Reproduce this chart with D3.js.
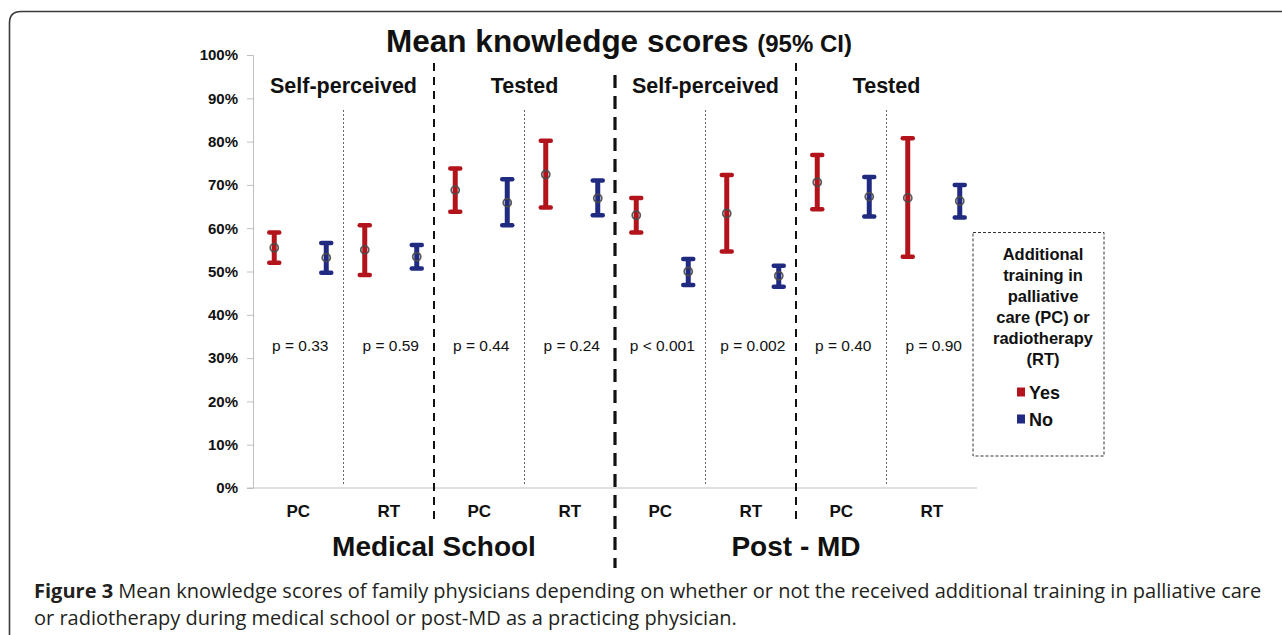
<!DOCTYPE html>
<html lang="en">
<head>
    <meta charset="UTF-8">
    <script src="https://d3js.org/d3.v7.min.js"></script>
    <title>Mean knowledge scores</title>
    <style>
        body { margin: 0; background: #fff; }
        svg text { font-family: "Liberation Sans", Arial, sans-serif; fill: #111; }
        .bold { font-weight: bold; }
        .axis path, .axis line { stroke: #bfbfbf; }
        .caption { font-family: "Open Sans", "Noto Sans", sans-serif; fill: #231f20; }
    </style>
</head>
<body>
<div class="graph"></div>
<script>
    // categories along the x axis
    var categories = ["PC", "RT", "PC", "RT", "PC", "RT", "PC", "RT"];
    var sections = ["Self-perceived", "Tested", "Self-perceived", "Tested"];
    var periods = ["Medical School", "Post - MD"];
    var pValues = ["p = 0.33", "p = 0.59", "p = 0.44", "p = 0.24",
                   "p < 0.001", "p = 0.002", "p = 0.40", "p = 0.90"];

    // mean and 95% CI, in percent
    var yesMean = [55.5, 55.0, 68.8, 72.4, 63.0, 63.4, 70.6, 67.0];
    var yesLow  = [52.0, 49.2, 63.8, 64.8, 59.0, 54.6, 64.4, 53.4];
    var yesHigh = [59.0, 60.7, 73.8, 80.2, 67.0, 72.3, 76.9, 80.8];
    var noMean  = [53.2, 53.4, 65.9, 66.9, 50.0, 49.0, 67.3, 66.3];
    var noLow   = [49.7, 50.7, 60.7, 63.0, 46.9, 46.5, 62.7, 62.5];
    var noHigh  = [56.6, 56.1, 71.3, 71.0, 52.9, 51.3, 71.8, 70.0];

    var yTicks = [0, 10, 20, 30, 40, 50, 60, 70, 80, 90, 100];
    var groups = ["Yes", "No"];
    var colors = { Yes: "#b3141c", No: "#1f2a80" };

    var legendTitle = ["Additional", "training in", "palliative", "care (PC) or", "radiotherapy", "(RT)"];
    var captionBold = "Figure 3";
    var captionLines = [
        " Mean knowledge scores of family physicians depending on whether or not the received additional training in palliative care",
        "or radiotherapy during medical school or post-MD as a practicing physician."
    ];

    var width = 1282, height = 635;

    var svg = d3.select(".graph").append("svg")
        .attr("width", width)
        .attr("height", height);

    // outer frame, only top and left edges visible
    svg.append("path")
        .attr("d", "M9.5,660 V23 Q9.5,11.5 21,11.5 H1300")
        .attr("fill", "none")
        .attr("stroke", "#3a3a3a")
        .attr("stroke-width", 1.6);

    var x = d3.scaleBand()
        .domain(d3.range(categories.length))
        .range([253, 977]);

    var sub = d3.scalePoint()
        .domain(groups)
        .range([-24, 28]);

    var y = d3.scaleLinear()
        .domain([0, 100])
        .range([488, 55]);

    // y axis
    var yAxis = svg.append("g")
        .attr("class", "axis")
        .attr("transform", "translate(253,0)")
        .call(d3.axisLeft(y).tickValues(yTicks).tickSize(6).tickPadding(9)
            .tickFormat(function (d) { return d + "%"; }));
    yAxis.selectAll("text")
        .attr("class", "bold")
        .style("font-size", "15px")
        .style("font-family", "Liberation Sans, Arial, sans-serif")
        .attr("fill", "#111");

    // x axis line
    svg.append("line")
        .attr("x1", 247).attr("x2", x.range()[1])
        .attr("y1", y(0)).attr("y2", y(0))
        .attr("stroke", "#bfbfbf");

    // separators between categories
    var sepTypes = ["dot", "dash", "dot", "thick", "dot", "dash", "dot"];
    var sepStyle = {
        dot:   { w: 1,   dash: "2,2",  y1: 110, y2: 486, c: "#666" },
        dash:  { w: 2,   dash: "8,6",  y1: 63,  y2: 520, c: "#111" },
        thick: { w: 3.2, dash: "13,8", y1: 75,  y2: 568, c: "#111" }
    };
    svg.selectAll(".sep")
        .data(sepTypes)
        .enter().append("line")
        .attr("class", "sep")
        .attr("x1", function (d, i) { return x(i + 1); })
        .attr("x2", function (d, i) { return x(i + 1); })
        .attr("y1", function (d) { return sepStyle[d].y1; })
        .attr("y2", function (d) { return sepStyle[d].y2; })
        .attr("stroke", function (d) { return sepStyle[d].c; })
        .attr("stroke-width", function (d) { return sepStyle[d].w; })
        .attr("stroke-dasharray", function (d) { return sepStyle[d].dash; });

    // category labels
    svg.selectAll(".cat")
        .data(categories)
        .enter().append("text")
        .attr("class", "bold")
        .attr("x", function (d, i) { return x(i) + x.bandwidth() / 2; })
        .attr("y", 517)
        .attr("text-anchor", "middle")
        .style("font-size", "17px")
        .text(function (d) { return d; });

    // section labels (each spans two categories)
    svg.selectAll(".sec")
        .data(sections)
        .enter().append("text")
        .attr("class", "bold")
        .attr("x", function (d, i) { return x(i * 2 + 1); })
        .attr("y", 93)
        .attr("text-anchor", "middle")
        .style("font-size", "21.5px")
        .text(function (d) { return d; });

    // period labels (each spans four categories)
    svg.selectAll(".per")
        .data(periods)
        .enter().append("text")
        .attr("class", "bold")
        .attr("x", function (d, i) { return x(i * 4 + 2); })
        .attr("y", 556)
        .attr("text-anchor", "middle")
        .style("font-size", "28px")
        .text(function (d) { return d; });

    // p values
    svg.selectAll(".pval")
        .data(pValues)
        .enter().append("text")
        .attr("x", function (d, i) { return x(i) + x.bandwidth() / 2 + 2; })
        .attr("y", 351)
        .attr("text-anchor", "middle")
        .style("font-size", "15.5px")
        .text(function (d) { return d; });

    // error bars
    var bars = [];
    categories.forEach(function (c, i) {
        bars.push({ g: "Yes", i: i, mean: yesMean[i], low: yesLow[i], high: yesHigh[i] });
        bars.push({ g: "No", i: i, mean: noMean[i], low: noLow[i], high: noHigh[i] });
    });

    var bar = svg.selectAll(".bar")
        .data(bars)
        .enter().append("g")
        .attr("class", "bar")
        .attr("transform", function (d) {
            return "translate(" + (x(d.i) + x.bandwidth() / 2 + sub(d.g)) + ",0)";
        });

    bar.append("line")
        .attr("y1", function (d) { return y(d.low); })
        .attr("y2", function (d) { return y(d.high); })
        .attr("stroke", function (d) { return colors[d.g]; })
        .attr("stroke-width", 5);

    bar.selectAll(".cap")
        .data(function (d) { return [d, d]; })
        .enter().append("line")
        .attr("x1", -5).attr("x2", 5)
        .attr("y1", function (d, j) { return y(j ? d.high : d.low); })
        .attr("y2", function (d, j) { return y(j ? d.high : d.low); })
        .attr("stroke", function (d) { return colors[d.g]; })
        .attr("stroke-width", 4.5)
        .attr("stroke-linecap", "round");

    bar.append("circle")
        .attr("cy", function (d) { return y(d.mean); })
        .attr("r", 4)
        .attr("fill", "none")
        .attr("stroke", "#4a4a4a")
        .attr("stroke-opacity", 0.9)
        .attr("stroke-width", 1.8);

    // title
    var title = svg.append("text")
        .attr("class", "bold")
        .attr("x", 619)
        .attr("y", 52)
        .attr("text-anchor", "middle");
    title.append("tspan").style("font-size", "31.5px").text("Mean knowledge scores ");
    title.append("tspan").style("font-size", "24px").text("(95% CI)");

    // legend
    var legend = svg.append("g");
    legend.append("rect")
        .attr("x", 973).attr("y", 232.5)
        .attr("width", 131).attr("height", 223.5)
        .attr("fill", "none")
        .attr("stroke", "#333")
        .attr("stroke-dasharray", "3,2");
    legend.selectAll(".lt")
        .data(legendTitle)
        .enter().append("text")
        .attr("class", "bold")
        .attr("x", 1043)
        .attr("y", function (d, i) { return 260 + i * 21; })
        .attr("text-anchor", "middle")
        .style("font-size", "16.5px")
        .text(function (d) { return d; });
    var item = legend.selectAll(".li")
        .data(groups)
        .enter().append("g")
        .attr("transform", function (d, i) { return "translate(1017," + (392 + i * 27) + ")"; });
    item.append("rect")
        .attr("x", 0).attr("y", -4.5)
        .attr("width", 8).attr("height", 9)
        .attr("fill", function (d) { return colors[d]; });
    item.append("text")
        .attr("class", "bold")
        .attr("x", 12)
        .attr("y", 6.5)
        .style("font-size", "18px")
        .text(function (d) { return d; });

    // caption
    var cap = svg.append("g").attr("class", "caption");
    var l1 = cap.append("text")
        .attr("class", "caption")
        .attr("x", 34).attr("y", 598)
        .style("font-size", "16px");
    l1.append("tspan").style("font-weight", "bold").text(captionBold);
    l1.append("tspan").text(captionLines[0]);
    var fs = 16 * 1228 / l1.node().getComputedTextLength();
    l1.style("font-size", fs + "px");
    cap.append("text")
        .attr("class", "caption")
        .attr("x", 34).attr("y", 625)
        .style("font-size", fs + "px")
        .text(captionLines[1]);
</script>
</body>
</html>
